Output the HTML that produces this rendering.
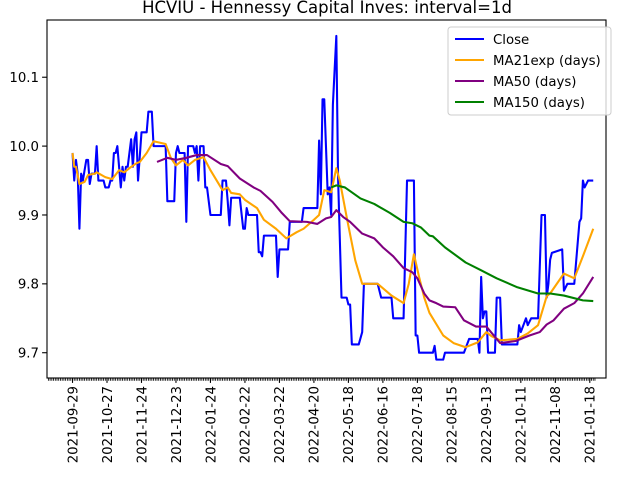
<!DOCTYPE html>
<html><head><meta charset="utf-8"><style>
html,body{margin:0;padding:0;background:#fff;}
svg{display:block;font-family:"DejaVu Sans","Liberation Sans",sans-serif;}
</style></head><body>
<svg id="chart" width="640" height="480" viewBox="0 0 640 480">
<rect width="640" height="480" fill="#fff"/>
<text x="327" y="13" text-anchor="middle" font-size="16.5" fill="#000">HCVIU - Hennessy Capital Inves: interval=1d</text>
<g id="marks"></g>
<rect x="47" y="20" width="559" height="358" fill="none" stroke="#000" stroke-width="1.1"/>
<g id="axes"></g>
<g>
<rect x="448" y="27" width="163" height="88" rx="3" fill="#fff" fill-opacity="0.8" stroke="#ccc"/>
<line x1="455" y1="39" x2="484" y2="39" stroke="#0000ff" stroke-width="2.08"/>
<text x="493" y="44" font-size="13.3">Close</text>
<line x1="455" y1="60" x2="484" y2="60" stroke="#ffa500" stroke-width="2.08"/>
<text x="493" y="65" font-size="13.3">MA21exp (days)</text>
<line x1="455" y1="81" x2="484" y2="81" stroke="#800080" stroke-width="2.08"/>
<text x="493" y="86" font-size="13.3">MA50 (days)</text>
<line x1="455" y1="102" x2="484" y2="102" stroke="#008000" stroke-width="2.08"/>
<text x="493" y="107" font-size="13.3">MA150 (days)</text>
</g>
</svg>
<script>
const tickLabels=["2021-09-29","2021-10-27","2021-11-24","2021-12-23","2022-01-24","2022-02-22","2022-03-22","2022-04-20","2022-05-18","2022-06-16","2022-07-18","2022-08-15","2022-09-13","2022-10-11","2022-11-08","2021-01-18"];
const yTicks=[9.7,9.8,9.9,10.0,10.1];
const closeBar=[0,1,2,3,4,5,6,8,9,10,11,13,14,15,18,19,21,22,23,24,25,26,27,28,29,30,31,32,34,35,36,37,38,40,43,44,46,47,54,55,59,60,61,62,65,66,67,70,71,72,73,74,76,77,78,80,86,87,89,90,91,92,97,99,100,101,102,107,108,109,110,111,118,119,120,125,126,133,134,142,143,144,145,146,148,149,150,151,152,153,154,156,159,160,161,162,166,168,169,177,179,185,186,192,194,198,199,200,201,209,210,211,215,216,227,230,235,236,237,238,239,240,241,245,246,248,249,258,259,260,263,264,266,270,272,274,275,276,277,278,284,285,287,291,292,294,295,296,297,299,302];
const closeVal=[9.99,9.95,9.98,9.96,9.88,9.96,9.95,9.98,9.98,9.945,9.96,9.96,10.0,9.95,9.95,9.94,9.94,9.95,9.95,9.99,9.99,10.0,9.97,9.94,9.97,9.95,9.97,9.97,10.01,9.97,10.01,10.02,9.95,10.02,10.02,10.05,10.05,10.0,10.0,9.92,9.92,9.99,10.0,9.99,9.99,9.89,10.0,10.0,9.99,10.0,9.95,10.0,10.0,9.94,9.94,9.90,9.90,9.95,9.95,9.92,9.885,9.925,9.925,9.88,9.88,9.91,9.90,9.90,9.846,9.846,9.84,9.87,9.87,9.81,9.85,9.85,9.89,9.89,9.91,9.91,10.008,9.93,10.068,10.068,9.93,9.94,9.90,10.06,10.11,10.16,9.955,9.78,9.78,9.77,9.77,9.712,9.712,9.73,9.80,9.80,9.78,9.78,9.75,9.75,9.95,9.95,9.725,9.725,9.70,9.70,9.71,9.69,9.69,9.70,9.70,9.72,9.72,9.70,9.81,9.75,9.76,9.76,9.70,9.70,9.78,9.78,9.712,9.712,9.74,9.73,9.75,9.74,9.75,9.75,9.90,9.90,9.78,9.80,9.835,9.845,9.85,9.79,9.80,9.80,9.83,9.89,9.895,9.95,9.94,9.95,9.95];
const emaBar=[0,1,2,4,7,9,13,14,19,23,27,30,33,37,39,43,47,54,57,60,64,67,71,76,80,87,90,92,97,100,107,111,118,124,130,134,140,143,146,150,153,155,159,164,168,177,185,192,195,198,201,204,207,215,221,228,235,240,243,248,258,264,270,275,277,285,291,296,302];
const emaVal=[9.99,9.97,9.97,9.945,9.948,9.958,9.96,9.962,9.955,9.952,9.965,9.962,9.968,9.975,9.977,9.99,10.007,10.003,9.983,9.972,9.98,9.972,9.98,9.984,9.965,9.936,9.94,9.932,9.93,9.922,9.91,9.893,9.88,9.866,9.875,9.88,9.893,9.90,9.936,9.933,9.968,9.95,9.897,9.834,9.80,9.80,9.783,9.772,9.80,9.843,9.81,9.78,9.758,9.725,9.714,9.708,9.715,9.73,9.724,9.718,9.72,9.728,9.74,9.782,9.786,9.815,9.808,9.84,9.88];
const ma50Bar=[49,55,60,66,72,78,86,90,97,105,109,116,121,126,136,142,147,150,153,157,161,168,175,180,186,192,197,200,204,207,211,215,222,227,234,240,248,257,265,271,275,279,285,291,296,302];
const ma50Val=[9.977,9.983,9.98,9.983,9.987,9.987,9.974,9.971,9.953,9.94,9.935,9.919,9.904,9.891,9.89,9.887,9.895,9.897,9.907,9.897,9.89,9.873,9.866,9.853,9.84,9.823,9.817,9.808,9.786,9.776,9.772,9.767,9.766,9.747,9.738,9.738,9.714,9.717,9.725,9.73,9.741,9.747,9.764,9.772,9.786,9.81];
const ma150Bar=[150,153,158,167,175,184,192,197,202,207,209,216,228,236,246,258,270,277,285,296,302];
const ma150Val=[9.94,9.943,9.94,9.924,9.916,9.903,9.89,9.888,9.882,9.87,9.869,9.853,9.831,9.821,9.808,9.795,9.786,9.786,9.783,9.776,9.775];

const NS="http://www.w3.org/2000/svg";
const X0=47,X1=606,Y0=20,Y1=378;
const bMin=-14.8,bMax=309.4,vMin=9.6633,vMax=10.1831;
function xs(b){return X0+(b-bMin)/(bMax-bMin)*(X1-X0);}
function ys(v){return Y1-(v-vMin)/(vMax-vMin)*(Y1-Y0);}
const marks=document.getElementById('marks'),axes=document.getElementById('axes');
function line(bars,vals,color,name){
  const p=document.createElementNS(NS,'polyline');
  p.setAttribute('points',bars.map((b,i)=>xs(b).toFixed(2)+','+ys(vals[i]).toFixed(2)).join(' '));
  p.setAttribute('fill','none');p.setAttribute('stroke',color);p.setAttribute('stroke-width','2.08');
  p.setAttribute('stroke-linejoin','round');
  
  
  marks.appendChild(p);
}
line(closeBar,closeVal,'#0000ff','close-line');
line(emaBar,emaVal,'#ffa500','ma21exp-line');
line(ma50Bar,ma50Val,'#800080','ma50-line');
line(ma150Bar,ma150Val,'#008000','ma150-line');
let d='';
const lastBar=closeBar[closeBar.length-1];
for(let b=Math.ceil(bMin);b<=lastBar+1;b++){const x=xs(b).toFixed(2);d+='M'+x+' '+Y1+'V'+(Y1+2.8);}
const mt=document.createElementNS(NS,'path');
mt.setAttribute('d',d);mt.setAttribute('stroke','#000');mt.setAttribute('stroke-width','0.83');


axes.appendChild(mt);
tickLabels.forEach((lab,i)=>{
  const x=xs(i*20);
  const t=document.createElementNS(NS,'line');
  t.setAttribute('x1',x);t.setAttribute('x2',x);t.setAttribute('y1',Y1);t.setAttribute('y2',Y1+4.9);
  t.setAttribute('stroke','#000');t.setAttribute('stroke-width','1.1');
  
  
  axes.appendChild(t);
  const tx=document.createElementNS(NS,'text');
  tx.setAttribute('transform','translate('+(x+4.8)+','+(Y1+8)+') rotate(-90)');
  tx.setAttribute('text-anchor','end');tx.setAttribute('font-size','13.3');
  tx.textContent=lab;
  
  
  axes.appendChild(tx);
});
yTicks.forEach(v=>{
  const y=ys(v);
  const t=document.createElementNS(NS,'line');
  t.setAttribute('x1',X0-4.9);t.setAttribute('x2',X0);t.setAttribute('y1',y);t.setAttribute('y2',y);
  t.setAttribute('stroke','#000');t.setAttribute('stroke-width','1.1');
  
  
  axes.appendChild(t);
  const tx=document.createElementNS(NS,'text');
  tx.setAttribute('x',X0-8);tx.setAttribute('y',y+4.8);
  tx.setAttribute('text-anchor','end');tx.setAttribute('font-size','13.3');
  tx.textContent=v.toFixed(1);
  
  
  axes.appendChild(tx);
});
</script>
</body></html>
